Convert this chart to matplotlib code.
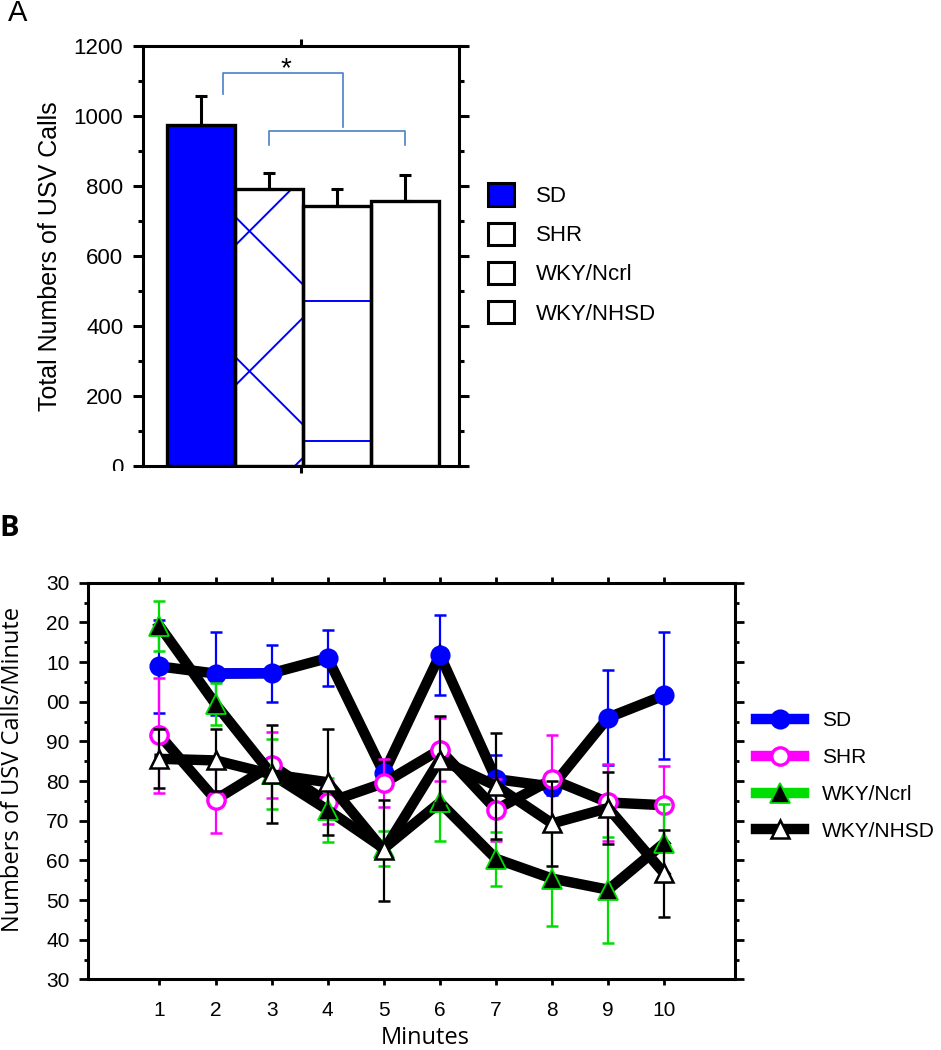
import numpy as np
import matplotlib
matplotlib.use("Agg")
import matplotlib.pyplot as plt
from matplotlib.lines import Line2D
from matplotlib.patches import Patch, Rectangle
from matplotlib.ticker import MultipleLocator

# panel A: total USV calls per strain
strains = ["SD", "SHR", "WKY/Ncrl", "WKY/NHSD"]
total_calls = [975, 793, 743, 757]
total_err = [82, 45, 49, 74]
bar_colors = ["#0000ff", "white", "white", "white"]

# significance brackets (x in bar units, y in calls)
bracket1_x = [0.32, 0.32, 2.09, 2.09]
bracket1_y = [1063, 1122, 1122, 969]
bracket2_x = [1.0, 1.0, 3.0, 3.0]
bracket2_y = [917, 958, 958, 917]

# panel B: calls per minute
minutes = [1, 2, 3, 4, 5, 6, 7, 8, 9, 10]
sd_mean = [108.9, 107.1, 107.2, 111.0, 82.0, 111.8, 80.5, 78.6, 96.0, 101.6]
sd_err = [11.7, 10.4, 7.2, 7.1, 3.0, 10.0, 6.0, 2.0, 12.0, 16.0]
shr_mean = [91.6, 75.3, 84.0, 74.6, 79.5, 87.9, 72.8, 80.4, 74.6, 73.9]
shr_err = [14.5, 8.3, 8.3, 5.4, 6.1, 8.0, 7.8, 11.2, 9.7, 9.9]
ncrl_mean = [119.1, 99.4, 81.7, 72.7, 63.0, 74.6, 60.4, 55.4, 52.6, 64.4]
ncrl_err = [6.3, 5.3, 8.8, 8.1, 4.4, 9.6, 6.8, 11.9, 13.4, 9.9]
nhsd_mean = [85.6, 85.2, 81.7, 79.7, 62.5, 85.4, 78.8, 69.3, 73.2, 56.7]
nhsd_err = [7.4, 7.8, 12.4, 13.3, 12.8, 11.0, 13.3, 10.8, 9.2, 10.9]
ytick_vals = [30, 40, 50, 60, 70, 80, 90, 100, 110, 120, 130]
ytick_text = ["30", "40", "50", "60", "70", "80", "90", "00", "10", "20", "30"]

ARIAL = "Liberation Sans"
SEGOE = "Open Sans"
BRACKET = "#4a7fc8"

fig = plt.figure(figsize=(9.41, 10.5), dpi=100)

# ---------------- panel A ----------------
axA = fig.add_axes([0.1523, 0.5559, 0.3358, 0.4003])
xpos = np.arange(len(strains))
axA.set_xlim(-0.853, 3.794)
axA.set_ylim(0, 1200)

bars = axA.bar(xpos, total_calls, width=1.0, color=bar_colors, edgecolor="none", zorder=1)
axA.bar(xpos, total_calls, width=1.0, color="none", edgecolor="black", linewidth=2.4, zorder=2)
axA.errorbar(xpos, total_calls, yerr=[np.zeros(len(xpos)), total_err], fmt="none",
             ecolor="black", elinewidth=2.2, capsize=4, capthick=2.2, zorder=1.5)

# sparse blue hatching drawn by hand (matplotlib hatches are too dense)
pA = axA.transData.transform([(0, 0), (1, 1)])
slope45 = (pA[1, 0] - pA[0, 0]) / (pA[1, 1] - pA[0, 1])
period = 400


def hatch(bar, slope, phase):
    x0 = bar.get_x()
    x1 = x0 + bar.get_width()
    for k in range(-4, 5):
        y0 = phase + k * period
        ln, = axA.plot([x0, x1], [y0, y0 + slope * (x1 - x0)], color="#0000ff", lw=1.4, zorder=1.2)
        ln.set_clip_path(bar)


hatch(bars[1], -slope45, 712)
hatch(bars[1], slope45, 631)
hatch(bars[2], 0, 71)

axA.plot(bracket1_x, bracket1_y, color=BRACKET, lw=1.2, zorder=3)
axA.plot(bracket2_x, bracket2_y, color=BRACKET, lw=1.2, zorder=3)
axA.text(np.mean(bracket1_x[1:3]) + 0.04, 1135, "*", ha="center", va="center", fontsize=20, family=ARIAL)

axA.set_xticks([np.mean(axA.get_xlim())])
axA.set_xticklabels([])
axA.tick_params(axis="x", top=True, bottom=True, direction="out", length=5, width=2.2)
axA.yaxis.set_major_locator(MultipleLocator(200))
axA.yaxis.set_minor_locator(MultipleLocator(100))
axA.tick_params(axis="y", which="major", left=True, right=True, direction="out", length=7, width=2.2,
                labelsize=16, pad=7.5)
axA.tick_params(axis="y", which="minor", left=True, right=True, direction="out", length=3.6, width=2.2)
for lab in axA.get_yticklabels():
    lab.set_family(ARIAL)
for sp in axA.spines.values():
    sp.set_linewidth(2.2)
axA.set_ylabel("Total Numbers of USV Calls", family=ARIAL, fontsize=18)
axA.yaxis.set_label_coords(-0.258, 0.5)

handlesA = [Patch(facecolor=c, edgecolor="black", linewidth=2.2) for c in bar_colors]
fig.legend(handlesA, strains, loc="center left", bbox_to_anchor=(488 / 941, 1 - 254 / 1050),
           frameon=False, prop={"family": ARIAL, "size": 16}, handlelength=1.17, handleheight=1.17,
           handletextpad=1.0, labelspacing=0.7, borderpad=0, borderaxespad=0)

fig.text(8 / 941, 1 - 13 / 1050, "A", ha="left", va="center", fontsize=21, family=ARIAL)
# the source image cut off the lower half of the "0" label
fig.patches.append(Rectangle((0, 1 - 500 / 1050), 140 / 941, 29 / 1050, transform=fig.transFigure,
                             facecolor="white", edgecolor="none", zorder=10))

# ---------------- panel B ----------------
axB = fig.add_axes([0.0938, 0.0673, 0.6878, 0.3777])
axB.set_xlim(-0.27, 11.27)
axB.set_ylim(30, 130)

series = [
    (sd_mean, sd_err, "#0000ff", dict(marker="o", mfc="#0000ff", mec="#0000ff", mew=1.5, ms=13)),
    (shr_mean, shr_err, "#ff00ff", dict(marker="o", mfc="white", mec="#ff00ff", mew=2.4, ms=12.5)),
    (ncrl_mean, ncrl_err, "#00dd00", dict(marker="^", mfc="black", mec="#00dd00", mew=1.3, ms=14)),
    (nhsd_mean, nhsd_err, "black", dict(marker="^", mfc="white", mec="black", mew=1.8, ms=13)),
]
for i, (mean, err, col, mk) in enumerate(series):
    z = 2 + i
    axB.errorbar(minutes, mean, yerr=err, fmt="none", ecolor=col, elinewidth=1.6,
                 capsize=4.5, capthick=1.8, zorder=z)
    axB.plot(minutes, mean, color="black", lw=7.5, solid_joinstyle="miter", zorder=z + 0.1)
    if i == 0:
        # the SD line only shows its own colour between minutes 2 and 3
        axB.plot(minutes[1:3], mean[1:3], color=col, lw=7.5, zorder=z + 0.2)
    axB.plot(minutes, mean, ls="none", zorder=z + 0.3, **mk)

axB.set_xticks(minutes)
axB.tick_params(axis="x", top=True, bottom=True, direction="out", length=4.5, width=2,
                labelsize=15, pad=11)
axB.set_yticks(ytick_vals)
axB.set_yticklabels(ytick_text)
axB.yaxis.set_minor_locator(MultipleLocator(5))
axB.tick_params(axis="y", which="major", left=True, right=True, direction="out", length=6.5, width=2,
                labelsize=15, pad=7)
axB.tick_params(axis="y", which="minor", left=True, right=True, direction="out", length=3, width=2)
for lab in axB.get_xticklabels() + axB.get_yticklabels():
    lab.set_family(ARIAL)
for sp in axB.spines.values():
    sp.set_linewidth(2.2)
axB.set_xlabel("Minutes", family=SEGOE, fontsize=17)
axB.xaxis.set_label_coords(0.521, -0.118)
axB.set_ylabel("Numbers of USV Calls/Minute", family=SEGOE, fontsize=17)
axB.yaxis.set_label_coords(-0.098, 0.53)

handlesB = [Line2D([], [], color=col, lw=7.5, **mk) for (_, _, col, mk) in series]
fig.legend(handlesB, strains, loc="center left", bbox_to_anchor=(756 / 941, 1 - 776 / 1050),
           frameon=False, prop={"family": ARIAL, "size": 15}, handlelength=2.3,
           handletextpad=0.85, labelspacing=0.85, borderpad=0, borderaxespad=0)

fig.text(-1 / 941, 1 - 529 / 1050, "B", ha="left", va="center", fontsize=21, family=SEGOE, weight="bold")

fig.savefig("out.png", dpi=100)
